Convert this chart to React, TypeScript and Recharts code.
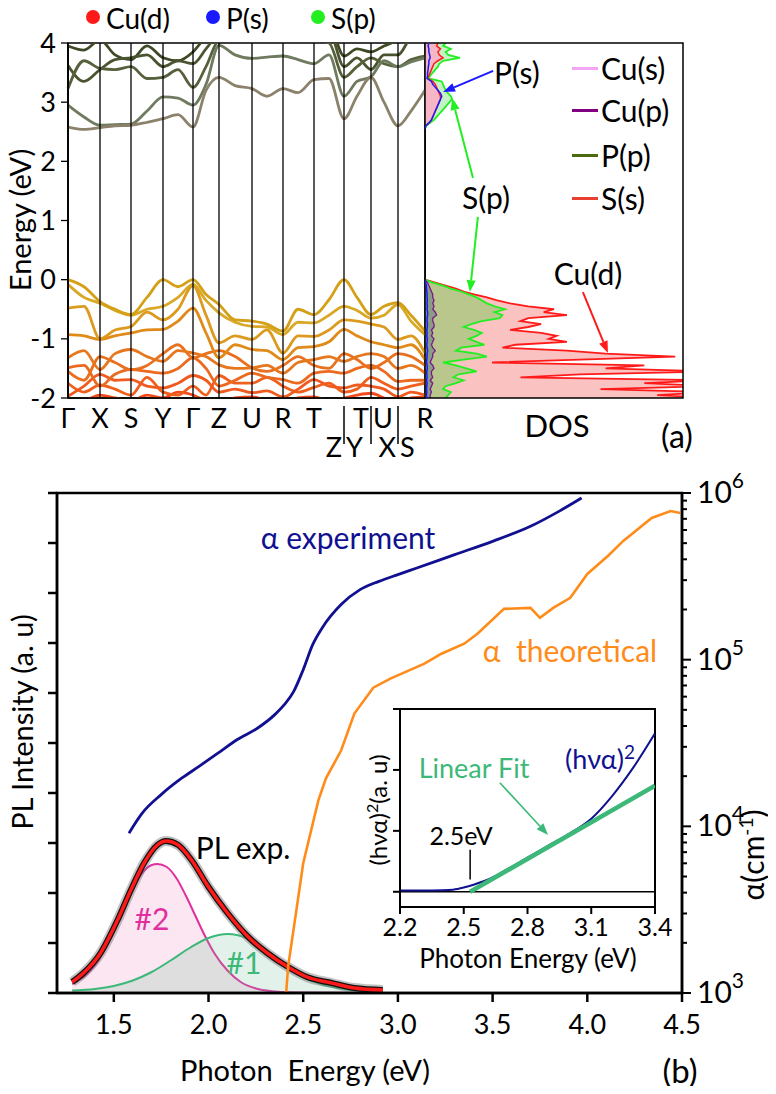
import React from 'react'
import { ComposedChart, Line, Area, XAxis, YAxis, ReferenceLine, ReferenceArea } from 'recharts'

const FONT = 'Lato, "Open Sans", "DejaVu Sans", sans-serif'

// ---------- (a) band structure ----------
// high-symmetry points along the k-path (path length units)
const K_POS = [0, 32, 63, 95, 125, 151, 184, 215, 246, 276, 303, 330, 357]
const K_NAMES = ['Γ', 'X', 'S', 'Y', 'Γ', 'Z', 'U', 'R', 'T', 'Z|Y', 'T|U', 'X|S', 'R']
const BREAK_ROW: Record<string, 'top' | 'bottom'> = { 'Z|Y': 'bottom', 'T|U': 'top', 'X|S': 'bottom' }

// sampled k values: each high-symmetry point plus the midpoint of each segment
const K_GRID = [0, 16, 32, 47, 63, 79, 95, 110, 125, 138, 151, 167, 184, 199, 215, 230, 246, 261, 276, 289, 303, 316, 330, 343, 357]

const C1 = [2.58, 2.54, 2.57, 2.6, 2.61, 2.66, 2.72, 2.79, 2.58, 3.2, 3.42, 3.28, 3.23, 3.1, 3.23, 3.16, 3.38, 3.4, 2.72, 3.1, 3.42, 3.0, 2.6, 2.85, 3.2]
const C2 = [2.95, 2.75, 2.61, 2.62, 2.63, 2.85, 3.09, 3.07, 2.95, 3.3, 3.96, 3.8, 3.74, 3.76, 3.78, 3.72, 3.65, 3.8, 3.1, 3.35, 3.43, 3.7, 3.6, 3.68, 3.75]
const C3 = [3.23, 3.7, 3.57, 3.55, 3.6, 3.4, 3.42, 3.55, 3.25, 3.6, 4.05, 4.1, 4.1, 4.1, 4.15, 4.1, 4.05, 4.0, 3.42, 3.6, 3.75, 3.65, 3.6, 3.72, 3.78]
const C4 = [3.62, 3.35, 3.55, 3.72, 3.75, 3.8, 3.6, 3.7, 3.65, 3.9, 4.15, 4.2, 4.2, 4.2, 4.2, 4.2, 4.2, 4.2, 3.6, 3.75, 3.55, 3.8, 3.8, 4.1, 4.2]
const C5 = [3.95, 3.88, 4.05, 3.8, 3.72, 3.95, 3.75, 3.7, 3.85, 4.1, 4.2, 4.3, 4.3, 4.3, 4.3, 4.3, 4.3, 4.3, 3.78, 3.9, 3.85, 3.95, 4.05, 4.2, 4.3]

const V1 = [0, -0.12, -0.37, -0.5, -0.59, -0.3, 0, -0.12, 0, -0.25, -0.42, -0.68, -0.7, -0.75, -0.87, -0.5, -0.59, -0.34, 0, -0.3, -0.59, -0.45, -0.39, -0.6, -0.87]
const V2 = [-0.08, -0.3, -0.4, -0.52, -0.6, -0.5, -0.45, -0.3, -0.08, -0.35, -0.56, -0.72, -0.79, -0.8, -0.93, -0.72, -0.73, -0.6, -0.45, -0.52, -0.65, -0.6, -0.42, -0.7, -0.93]
const V3 = [-0.48, -0.45, -1.0, -0.85, -0.79, -0.55, -0.68, -0.5, -0.1, -0.6, -1.07, -0.95, -1.01, -0.85, -1.24, -0.95, -0.96, -0.85, -0.68, -0.7, -0.75, -0.8, -1.01, -0.95, -1.24]
const V4 = [-0.93, -0.95, -1.01, -0.95, -0.9, -0.85, -0.84, -0.7, -0.48, -0.9, -1.32, -1.1, -1.18, -1.2, -1.35, -1.15, -1.13, -1.05, -0.84, -0.95, -1.05, -1.1, -1.15, -1.1, -1.35]
const V5 = [-1.32, -1.2, -1.52, -1.25, -1.18, -1.3, -1.38, -1.2, -1.24, -1.3, -1.44, -1.5, -1.49, -1.45, -1.58, -1.4, -1.35, -1.3, -1.38, -1.3, -1.25, -1.3, -1.5, -1.45, -1.58]
const V6 = [-1.49, -1.45, -1.8, -1.6, -1.52, -1.55, -1.58, -1.5, -1.32, -1.5, -1.8, -1.7, -1.58, -1.65, -1.69, -1.75, -1.58, -1.55, -1.58, -1.5, -1.45, -1.55, -1.72, -1.7, -1.7]
const V7 = [-1.97, -1.8, -1.6, -1.7, -1.69, -1.8, -1.83, -1.75, -1.62, -1.7, -1.9, -1.85, -1.91, -1.88, -1.98, -1.85, -1.69, -1.8, -1.83, -1.78, -1.8, -1.85, -1.98, -1.9, -1.95]
const V8 = [-2.1, -2.05, -1.95, -2.0, -2.05, -1.95, -2.0, -1.9, -1.95, -2.05, -2.1, -2.0, -1.98, -2.05, -2.1, -2.0, -1.98, -2.05, -2.0, -1.95, -1.92, -2.0, -2.1, -2.0, -1.98]
const V9 = [-1.55, -1.7, -1.3, -1.4, -1.52, -1.45, -1.25, -1.1, -1.32, -1.25, -1.2, -1.3, -1.49, -1.55, -1.45, -1.3, -1.45, -1.5, -1.25, -1.35, -1.5, -1.4, -1.25, -1.3, -1.45]
const V10 = [-1.75, -1.9, -1.78, -1.85, -1.95, -1.65, -1.9, -1.95, -1.8, -1.95, -1.62, -1.75, -1.75, -1.65, -1.8, -1.9, -1.82, -1.75, -1.9, -1.85, -1.65, -1.75, -1.85, -1.8, -1.75]

const BANDS = [
  { key: 'c5', values: C5, color: '#3e4a26' },
  { key: 'c4', values: C4, color: '#4a5530' },
  { key: 'c3', values: C3, color: '#56613c' },
  { key: 'c2', values: C2, color: '#6f7b5f' },
  { key: 'c1', values: C1, color: '#8c826c' },
  { key: 'v8', values: V8, color: '#f24a1a' },
  { key: 'v10', values: V10, color: '#f0601c' },
  { key: 'v7', values: V7, color: '#f05a1e' },
  { key: 'v6', values: V6, color: '#ec6a20' },
  { key: 'v9', values: V9, color: '#e8701e' },
  { key: 'v5', values: V5, color: '#e6771c' },
  { key: 'v4', values: V4, color: '#e08a1a' },
  { key: 'v3', values: V3, color: '#dc9a1e' },
  { key: 'v2', values: V2, color: '#d9a826' },
  { key: 'v1', values: V1, color: '#d4a017' },
]

const bandRows = K_GRID.map((k, i) => {
  const row: Record<string, number> = { k }
  BANDS.forEach((b) => { row[b.key] = b.values[i] })
  return row
})

// ---------- (a) projected DOS ----------
const VAL_E = [0, -0.05, -0.1, -0.15, -0.2, -0.25, -0.3, -0.35, -0.4, -0.45, -0.5, -0.55, -0.6, -0.65, -0.7, -0.75, -0.8, -0.85, -0.9, -0.95, -1.0, -1.05, -1.1, -1.15, -1.2, -1.25, -1.3, -1.35, -1.4, -1.45, -1.5, -1.55, -1.6, -1.65, -1.7, -1.75, -1.8, -1.85, -1.9, -1.95, -2.0]
const VAL_CU_D = [0, 4, 8, 12, 15, 19, 24, 28, 33, 40, 50, 46, 55, 40, 37, 45, 40, 33, 45, 51, 48, 55, 35, 30, 55, 70, 97, 60, 26, 85, 70, 112, 60, 37, 108, 85, 112, 68, 112, 90, 112]
const VAL_S_P = [0, 3, 7, 10, 14, 17, 20, 22, 24, 27, 31, 27, 30, 29, 22, 18, 15, 19, 22, 20, 17, 20, 23, 14, 12, 20, 24, 15, 7, 12, 16, 20, 13, 11, 15, 12, 8, 7, 10, 9, 8]
const VAL_CU_P = [0, 1, 1.5, 2, 2.5, 3, 3, 3.5, 3, 3.5, 3, 4, 4.5, 3, 3, 3.5, 3.5, 2.5, 3, 2.5, 3.5, 3, 2.5, 3, 4, 3, 3, 2.5, 2, 3, 3.5, 2.5, 2.5, 3, 2, 3, 2.5, 2, 2.5, 2, 2]
const VAL_P_S = [0, 0.3, 0.5, 0.6, 0.7, 0.8, 0.8, 0.9, 0.8, 0.9, 0.8, 1, 1, 0.8, 0.8, 0.9, 0.9, 0.7, 0.8, 0.7, 0.9, 0.8, 0.7, 0.8, 1, 0.8, 0.8, 0.7, 0.6, 0.8, 0.9, 0.7, 0.7, 0.8, 0.6, 0.8, 0.7, 0.6, 0.7, 0.6, 0.6]

const COND_E = [2.55, 2.6, 2.65, 2.7, 2.75, 2.8, 2.85, 2.9, 2.95, 3.0, 3.05, 3.1, 3.15, 3.2, 3.25, 3.3, 3.35, 3.4, 3.45, 3.5, 3.55, 3.6, 3.65, 3.7, 3.75, 3.8, 3.85, 3.9, 3.95, 4.0]
const COND_S_P = [0, 0.5, 2, 3.5, 4.5, 5.5, 6.5, 7.5, 8.5, 9.5, 10.5, 10, 9, 8, 7.5, 7, 6.5, 1.5, 2, 3, 4, 5, 5.5, 7, 13.5, 9, 8, 10, 7, 8]
const COND_CU_D = [0, 0.3, 1.5, 2.5, 3, 3.5, 4, 4.5, 5, 5.5, 6, 6, 5.5, 5, 4.5, 4, 3, 1, 1.5, 2, 2.5, 3, 3.5, 5, 7, 5.5, 5, 6, 4.5, 5]
const COND_P_S = [0, 0.3, 1.5, 2.5, 3, 3.5, 4, 4.5, 5, 5.5, 6, 6.5, 6, 5, 4, 3, 2.5, 0.8, 1, 1, 1.2, 1.3, 1.5, 1.5, 2, 1.8, 1.5, 1.5, 1.2, 1.5]

const valRows = VAL_E.map((e, i) => ({ e, cud: VAL_CU_D[i], sp: VAL_S_P[i], cup: VAL_CU_P[i], ps: VAL_P_S[i] }))
const condRows = COND_E.map((e, i) => ({ e, cud: COND_CU_D[i], sp: COND_S_P[i], ps: COND_P_S[i] }))

const DOS_LEGEND = [
  { name: 'Cu(s)', color: '#f4a6f4' },
  { name: 'Cu(p)', color: '#800080' },
  { name: 'P(p)', color: '#4b6a10' },
  { name: 'S(s)', color: '#e84030' },
]
const BAND_LEGEND = [
  { name: 'Cu(d)', color: '#ff1a1a' },
  { name: 'P(s)', color: '#1a1aff' },
  { name: 'S(p)', color: '#22ee22' },
]

// ---------- (b) PL and absorption ----------
const PL_E = [1.28, 1.34, 1.43, 1.52, 1.59, 1.66, 1.73, 1.775, 1.84, 1.91, 2.0, 2.1, 2.21, 2.31, 2.42, 2.52, 2.65, 2.77, 2.92]
const PL_FIT = [0.22, 0.4, 0.8, 1.46, 2.06, 2.6, 2.96, 3.04, 2.96, 2.66, 2.12, 1.6, 1.12, 0.8, 0.52, 0.32, 0.2, 0.1, 0.06]

const PEAK2_E = [1.28, 1.35, 1.4, 1.45, 1.5, 1.55, 1.6, 1.65, 1.7, 1.73, 1.78, 1.83, 1.88, 1.93, 1.98, 2.03, 2.1, 2.17, 2.25, 2.35, 2.45, 2.92]
const PEAK2 = [0.18, 0.35, 0.55, 0.85, 1.25, 1.7, 2.1, 2.4, 2.56, 2.58, 2.52, 2.3, 1.95, 1.55, 1.15, 0.8, 0.45, 0.22, 0.09, 0.03, 0.01, 0]

const PEAK1_E = [1.28, 1.4, 1.5, 1.6, 1.7, 1.8, 1.9, 2.0, 2.1, 2.2, 2.3, 2.4, 2.5, 2.6, 2.7, 2.8, 2.92]
const PEAK1 = [0.05, 0.08, 0.14, 0.25, 0.42, 0.65, 0.9, 1.1, 1.18, 1.1, 0.85, 0.55, 0.32, 0.17, 0.09, 0.04, 0.02]

// absorption coefficient, cm^-1
const ALPHA_EXP_E = [1.58, 1.65, 1.75, 1.86, 1.95, 2.05, 2.15, 2.26, 2.35, 2.4, 2.45, 2.5, 2.55, 2.6, 2.7, 2.8, 2.9, 3.0, 3.1, 3.3, 3.5, 3.7, 3.85, 3.97]
const ALPHA_EXP = [9100, 12000, 15500, 19500, 22900, 27500, 33100, 38900, 46800, 53700, 64600, 87100, 123000, 155000, 214000, 263000, 295000, 324000, 355000, 427000, 513000, 631000, 776000, 933000]

const ALPHA_TH_E = [2.41, 2.42, 2.5, 2.58, 2.62, 2.7, 2.77, 2.87, 2.96, 3.14, 3.23, 3.35, 3.42, 3.56, 3.7, 3.75, 3.82, 3.91, 4.0, 4.11, 4.19, 4.34, 4.44, 4.49]
const ALPHA_TH = [1000, 1430, 6000, 14300, 19400, 28500, 47500, 67900, 76900, 94600, 108600, 124700, 143200, 201800, 204600, 178200, 204600, 235000, 327000, 420000, 516000, 708000, 780000, 759000]

const ALPHA_TICKS = [1e3, 2e3, 3e3, 4e3, 5e3, 6e3, 7e3, 8e3, 9e3, 1e4, 2e4, 3e4, 4e4, 5e4, 6e4, 7e4, 8e4, 9e4, 1e5, 2e5, 3e5, 4e5, 5e5, 6e5, 7e5, 8e5, 9e5, 1e6]
const PL_TICKS = [0, 1, 2, 3, 4, 5, 6, 7, 8, 9, 10]
const E_TICKS = [1.5, 2.0, 2.5, 3.0, 3.5, 4.0, 4.5]

// inset: Tauc plot
const TAUC_E = [2.2, 2.3, 2.4, 2.45, 2.5, 2.55, 2.6, 2.65, 2.7, 2.8, 2.9, 3.0, 3.1, 3.2, 3.3, 3.4]
const TAUC = [0.02, 0.02, 0.025, 0.035, 0.07, 0.12, 0.18, 0.26, 0.36, 0.56, 0.76, 0.96, 1.2, 1.58, 2.05, 2.6]
const FIT_E = [2.53, 3.4]
const FIT = [0, 1.74]
const INSET_TICKS = [2.2, 2.5, 2.8, 3.1, 3.4]

const zipRows = (xs: number[], ys: number[]) => xs.map((e, i) => ({ e, v: ys[i] }))
const plRows = zipRows(PL_E, PL_FIT)
const peak2Rows = zipRows(PEAK2_E, PEAK2)
const peak1Rows = zipRows(PEAK1_E, PEAK1)
const expRows = zipRows(ALPHA_EXP_E, ALPHA_EXP)
const thRows = zipRows(ALPHA_TH_E, ALPHA_TH)
const taucRows = zipRows(TAUC_E, TAUC)
const fitRows = zipRows(FIT_E, FIT)

// ---------- helpers ----------
function Txt({ x, y, size = 28, color = '#000', rotate = 0, align = 'center', children }: any) {
  const shift = align === 'left' ? 'translate(0, -50%)' : 'translate(-50%, -50%)'
  return (
    <div
      style={{
        position: 'absolute',
        left: x - 8,
        top: y - 8,
        transform: `${shift} rotate(${rotate}deg)`,
        fontSize: size,
        color,
        whiteSpace: 'pre',
        lineHeight: 1.1,
      }}
    >
      {children}
    </div>
  )
}

const arrowShape = (color: string, width = 2) => (p: any) => {
  const { x1, y1, x2, y2 } = p
  const a = Math.atan2(y2 - y1, x2 - x1)
  const len = 12
  const half = 4.5
  const bx = x2 - len * Math.cos(a)
  const by = y2 - len * Math.sin(a)
  const pts = [
    [x2, y2],
    [bx + half * Math.sin(a), by - half * Math.cos(a)],
    [bx - half * Math.sin(a), by + half * Math.cos(a)],
  ]
  return (
    <g>
      <line x1={x1} y1={y1} x2={bx} y2={by} stroke={color} strokeWidth={width} />
      <polygon points={pts.map((q) => q.join(',')).join(' ')} fill={color} />
    </g>
  )
}

function KTick({ x, y, payload }: any) {
  const idx = K_POS.indexOf(payload.value)
  const name = K_NAMES[idx]
  if (!name) return null
  if (!name.includes('|')) {
    return (
      <text x={x} y={y + 19} textAnchor="middle" dominantBaseline="central" fontSize={27} fill="#000">
        {name}
      </text>
    )
  }
  const [left, right] = name.split('|')
  const rowY = BREAK_ROW[name] === 'top' ? y + 19 : y + 48
  return (
    <g>
      <line x1={x} x2={x} y1={y + 8} y2={y + 46} stroke="#000" strokeWidth={1.5} />
      <text x={x - 2} y={rowY} textAnchor="end" dominantBaseline="central" fontSize={27} fill="#000">
        {left}
      </text>
      <text x={x + 2} y={rowY} textAnchor="start" dominantBaseline="central" fontSize={27} fill="#000">
        {right}
      </text>
    </g>
  )
}

function CrossTick({ x, y, payload }: any) {
  if (payload.value <= -2 || payload.value >= 4) return null
  return <line x1={x - 8} x2={x + 6} y1={y} y2={y} stroke="#000" strokeWidth={1.3} />
}

function AlphaTick({ x, y, payload }: any) {
  const v = payload.value
  const exp = Math.log10(v)
  const major = Math.abs(exp - Math.round(exp)) < 1e-6
  return (
    <g>
      <line x1={x} x2={x + (major ? 9 : 5)} y1={y} y2={y} stroke="#000" strokeWidth={2} />
      {major && (
        <text x={x + 15} y={y + 10} fontSize={30} fill="#000">
          10
          <tspan dy={-15} fontSize={21}>
            {Math.round(exp)}
          </tspan>
        </text>
      )}
    </g>
  )
}

// ---------- panels ----------
function BandPanel() {
  return (
    <ComposedChart width={445} height={460} data={bandRows} margin={{ top: 35, right: 28, left: 0, bottom: 40 }}>
      <XAxis
        dataKey="k"
        type="number"
        domain={[0, 357]}
        ticks={K_POS}
        interval={0}
        height={30}
        tickSize={0}
        tickMargin={0}
        tickLine={false}
        axisLine={{ stroke: '#000', strokeWidth: 1.5 }}
        tick={<KTick />}
      />
      <YAxis
        type="number"
        domain={[-2, 4]}
        ticks={[-2, -1, 0, 1, 2, 3, 4]}
        allowDataOverflow
        width={60}
        tickSize={7}
        tickMargin={5}
        tickLine={{ stroke: '#000', strokeWidth: 1.3 }}
        axisLine={{ stroke: '#000', strokeWidth: 1.5 }}
        tick={{ fontSize: 27, fill: '#000' }}
      />
      {BANDS.map((b) => (
        <Line
          key={b.key}
          dataKey={b.key}
          type="monotone"
          stroke={b.color}
          strokeWidth={2.8}
          dot={false}
          isAnimationActive={false}
        />
      ))}
      {K_POS.map((k) => (
        <ReferenceLine key={k} x={k} stroke="#000" strokeWidth={1.3} />
      ))}
      <ReferenceArea x1={0} x2={357} y1={-2} y2={4} fill="none" stroke="#000" strokeWidth={1.5} />
    </ComposedChart>
  )
}

function DosPanel() {
  return (
    <ComposedChart layout="vertical" width={270} height={460} margin={{ top: 35, right: 12, left: 0, bottom: 70 }}>
      <XAxis type="number" domain={[0, 100]} allowDataOverflow hide />
      <YAxis
        type="number"
        dataKey="e"
        domain={[-2, 4]}
        ticks={[-2, -1, 0, 1, 2, 3, 4]}
        reversed
        allowDataOverflow
        width={0}
        tickSize={0}
        tickMargin={0}
        tickLine={false}
        axisLine={{ stroke: '#000', strokeWidth: 1.5 }}
        tick={<CrossTick />}
      />
      {/* valence side: Cu(d) envelope under S(p) */}
      <Area data={valRows} dataKey="cud" type="linear" stroke="#ff1a1a" strokeWidth={1.8} fill="#fbc2c2" fillOpacity={1} isAnimationActive={false} />
      <Area data={valRows} dataKey="sp" type="linear" stroke="#22ee22" strokeWidth={1.8} fill="#b9c78c" fillOpacity={1} isAnimationActive={false} />
      <Area data={valRows} dataKey="cup" type="linear" stroke="#7a1a8a" strokeWidth={1.3} fill="#8a9c86" fillOpacity={1} isAnimationActive={false} />
      <Line data={valRows} dataKey="ps" type="linear" stroke="#1a1aff" strokeWidth={1.5} dot={false} isAnimationActive={false} />
      {/* conduction side: S(p) outermost */}
      <Area data={condRows} dataKey="sp" type="linear" stroke="#22ee22" strokeWidth={1.8} fill="#c4f2c4" fillOpacity={1} isAnimationActive={false} />
      <Area data={condRows} dataKey="cud" type="linear" stroke="#ff1a1a" strokeWidth={1.5} fill="#f6b6c6" fillOpacity={1} isAnimationActive={false} />
      <Line data={condRows} dataKey="ps" type="linear" stroke="#1a1aff" strokeWidth={1.5} dot={false} isAnimationActive={false} />
      <ReferenceLine segment={[{ x: 26.4, y: 3.53 }, { x: 7.0, y: 3.17 }]} shape={arrowShape('#1a1aff')} />
      <ReferenceLine segment={[{ x: 18.6, y: 1.72 }, { x: 10.5, y: 3.07 }]} shape={arrowShape('#22ee22')} />
      <ReferenceLine segment={[{ x: 20.5, y: 1.06 }, { x: 17.4, y: -0.21 }]} shape={arrowShape('#22ee22')} />
      <ReferenceLine segment={[{ x: 61.2, y: -0.21 }, { x: 70.9, y: -1.24 }]} shape={arrowShape('#ff1a1a')} />
      <ReferenceArea x1={0} x2={100} y1={-2} y2={4} fill="none" stroke="#000" strokeWidth={1.5} />
    </ComposedChart>
  )
}

function OpticsPanel() {
  return (
    <ComposedChart width={760} height={615} margin={{ top: 30, right: 0, left: 0, bottom: 40 }}>
      <XAxis
        dataKey="e"
        type="number"
        domain={[1.2, 4.5]}
        ticks={E_TICKS}
        allowDataOverflow
        height={45}
        tickSize={9}
        tickMargin={13}
        tickFormatter={(v: number) => v.toFixed(1)}
        tickLine={{ stroke: '#000', strokeWidth: 2.5 }}
        axisLine={{ stroke: '#000', strokeWidth: 2.5 }}
        tick={{ fontSize: 27, fill: '#000' }}
      />
      <YAxis
        yAxisId="pl"
        type="number"
        domain={[0, 10]}
        ticks={PL_TICKS}
        allowDataOverflow
        width={49}
        tickSize={9}
        tickFormatter={() => ''}
        tickLine={{ stroke: '#000', strokeWidth: 2.5 }}
        axisLine={{ stroke: '#000', strokeWidth: 2.5 }}
      />
      <YAxis
        yAxisId="alpha"
        orientation="right"
        type="number"
        scale="log"
        domain={[1000, 1000000]}
        ticks={ALPHA_TICKS}
        interval={0}
        allowDataOverflow
        width={86}
        tickSize={0}
        tickMargin={0}
        tickLine={false}
        axisLine={{ stroke: '#000', strokeWidth: 2.5 }}
        tick={<AlphaTick />}
      />
      <Area yAxisId="pl" data={peak2Rows} dataKey="v" type="monotone" stroke="#e0309f" strokeWidth={2} fill="#ec8cbe" fillOpacity={0.22} isAnimationActive={false} />
      <Area yAxisId="pl" data={peak1Rows} dataKey="v" type="monotone" stroke="#3cb878" strokeWidth={2} fill="#6ebe96" fillOpacity={0.2} isAnimationActive={false} />
      {/* measured PL points drawn as a dark band under the fit */}
      <Line yAxisId="pl" data={plRows} dataKey="v" type="monotone" stroke="#777" strokeOpacity={0.45} strokeWidth={10} dot={false} isAnimationActive={false} />
      <Line yAxisId="pl" data={plRows} dataKey="v" type="monotone" stroke="#111" strokeWidth={6} dot={false} isAnimationActive={false} />
      <Line yAxisId="pl" data={plRows} dataKey="v" type="monotone" stroke="#ff1a1a" strokeWidth={3.5} dot={false} isAnimationActive={false} />
      <Line yAxisId="alpha" data={thRows} dataKey="v" type="linear" stroke="#ff8c1a" strokeWidth={2.6} dot={false} isAnimationActive={false} />
      <Line yAxisId="alpha" data={expRows} dataKey="v" type="monotone" stroke="#101090" strokeWidth={2.8} dot={false} isAnimationActive={false} />
      <ReferenceArea yAxisId="pl" x1={1.2} x2={4.5} y1={0} y2={10} fill="none" stroke="#000" strokeWidth={2.5} />
    </ComposedChart>
  )
}

function TaucInset() {
  return (
    <ComposedChart width={345} height={280} margin={{ top: 11, right: 38, left: 0, bottom: 41 }}>
      <XAxis
        dataKey="e"
        type="number"
        domain={[2.2, 3.4]}
        ticks={INSET_TICKS}
        interval={0}
        allowDataOverflow
        height={30}
        tickSize={7}
        tickMargin={4}
        tickFormatter={(v: number) => v.toFixed(1)}
        tickLine={{ stroke: '#000', strokeWidth: 2 }}
        axisLine={{ stroke: '#000', strokeWidth: 2 }}
        tick={{ fontSize: 25, fill: '#000' }}
      />
      <YAxis
        type="number"
        domain={[-0.25, 3]}
        ticks={[0, 1, 2, 3]}
        allowDataOverflow
        width={52}
        tickSize={7}
        tickFormatter={() => ''}
        tickLine={{ stroke: '#000', strokeWidth: 2 }}
        axisLine={{ stroke: '#000', strokeWidth: 2 }}
      />
      <ReferenceLine y={0} stroke="#000" strokeWidth={1.3} />
      <Line data={taucRows} dataKey="v" type="monotone" stroke="#101090" strokeWidth={2} dot={false} isAnimationActive={false} />
      <Line data={fitRows} dataKey="v" type="linear" stroke="#3cb878" strokeWidth={4.5} dot={false} isAnimationActive={false} />
      <ReferenceLine segment={[{ x: 2.53, y: 0.2 }, { x: 2.53, y: 0.69 }]} stroke="#000" strokeWidth={1.5} />
      <ReferenceLine segment={[{ x: 2.67, y: 1.79 }, { x: 2.897, y: 0.93 }]} shape={arrowShape('#3cb878', 1.6)} />
      <ReferenceArea x1={2.2} x2={3.4} y1={-0.25} y2={3} fill="none" stroke="#000" strokeWidth={2} />
    </ComposedChart>
  )
}

export default function App() {
  return (
    <div style={{ position: 'relative', width: 760, height: 1078, fontFamily: FONT, background: '#fff' }}>
      <div style={{ position: 'absolute', left: 0, top: 0 }}>
        <BandPanel />
      </div>
      <div style={{ position: 'absolute', left: 417, top: 0 }}>
        <DosPanel />
      </div>
      <div style={{ position: 'absolute', left: 0, top: 455 }}>
        <OpticsPanel />
      </div>
      <div style={{ position: 'absolute', left: 340, top: 690 }}>
        <TaucInset />
      </div>

      {/* band projection legend */}
      {BAND_LEGEND.map((item, i) => {
        const dotX = [93, 213, 318][i]
        return (
          <React.Fragment key={item.name}>
            <div
              style={{
                position: 'absolute',
                left: dotX - 8 - 7,
                top: 17 - 8 - 7,
                width: 14,
                height: 14,
                borderRadius: 7,
                background: item.color,
              }}
            />
            <Txt x={dotX + 13} y={18} size={28} align="left">
              {item.name}
            </Txt>
          </React.Fragment>
        )
      })}

      {/* DOS legend */}
      {DOS_LEGEND.map((item, i) => {
        const y = [68, 110, 155, 198][i]
        return (
          <React.Fragment key={item.name}>
            <div style={{ position: 'absolute', left: 572 - 8, top: y - 8 - 1.5, width: 26, height: 3, background: item.color }} />
            <Txt x={601} y={y} size={30} align="left">
              {item.name}
            </Txt>
          </React.Fragment>
        )
      })}

      <Txt x={20} y={220} rotate={-90} size={29}>Energy (eV)</Txt>
      <Txt x={494} y={72} size={30} align="left">P(s)</Txt>
      <Txt x={486} y={197} size={30}>S(p)</Txt>
      <Txt x={588} y={273} size={30}>Cu(d)</Txt>
      <Txt x={557} y={425} size={31}>DOS</Txt>
      <Txt x={677} y={436} size={32}>(a)</Txt>

      <Txt x={22} y={722} rotate={-90} size={29}>PL Intensity (a. u)</Txt>
      <Txt x={752} y={855} rotate={-90} size={30}>
        α(cm<sup style={{ fontSize: 19 }}>-1</sup>)
      </Txt>
      <Txt x={348} y={537} size={30} color="#101090">α experiment</Txt>
      <Txt x={570} y={650} size={30} color="#ff8c1a">α  theoretical</Txt>
      <Txt x={243} y={847} size={30}>PL exp.</Txt>
      <Txt x={152} y={918} size={30} color="#e0309f">#2</Txt>
      <Txt x={244} y={962} size={30} color="#3cb878">#1</Txt>

      <Txt x={600} y={758} size={27} color="#101090">
        (hνα)<sup style={{ fontSize: 19 }}>2</sup>
      </Txt>
      <Txt x={474} y={768} size={27} color="#3cb878">Linear Fit</Txt>
      <Txt x={461} y={836} size={25}>2.5eV</Txt>
      <Txt x={377} y={810} size={24} rotate={-90}>
        (hνα)<sup style={{ fontSize: 16 }}>2</sup>(a. u)
      </Txt>
      <Txt x={528} y={958} size={26}>Photon Energy (eV)</Txt>

      <Txt x={305} y={1070} size={29}>Photon  Energy (eV)</Txt>
      <Txt x={680} y={1070} size={33}>(b)</Txt>
    </div>
  )
}
